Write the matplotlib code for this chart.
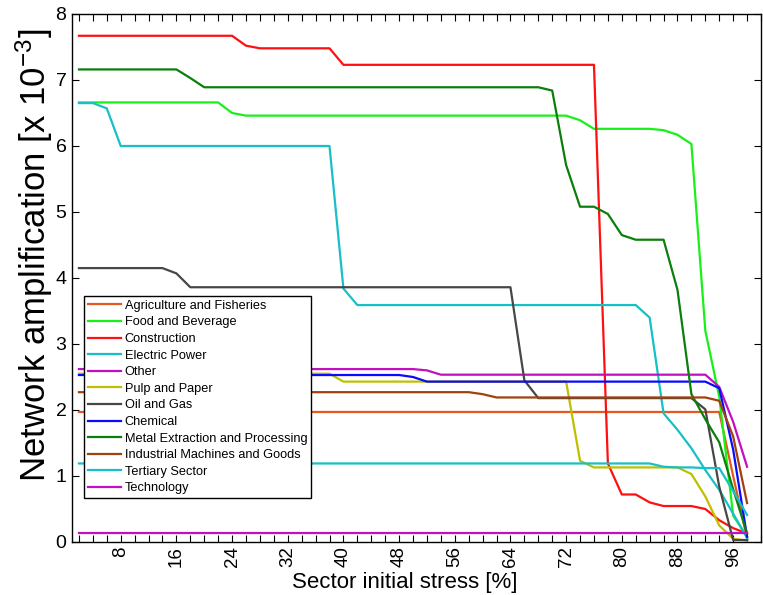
import matplotlib
matplotlib.use("Agg")
import matplotlib.pyplot as plt
from matplotlib.ticker import MultipleLocator, FixedLocator

plt.rcParams['font.family'] = ['Liberation Sans', 'DejaVu Sans']
plt.rcParams['mathtext.fontset'] = 'custom'
plt.rcParams['mathtext.rm'] = 'Liberation Sans'
plt.rcParams['mathtext.it'] = 'Liberation Sans:italic'

stress = [2, 4, 6, 8, 10, 12, 14, 16, 18, 20,
          22, 24, 26, 28, 30, 32, 34, 36, 38, 40,
          42, 44, 46, 48, 50, 52, 54, 56, 58, 60,
          62, 64, 66, 68, 70, 72, 74, 76, 78, 80,
          82, 84, 86, 88, 90, 92, 94, 96, 98]

agriculture = [1.97, 1.97, 1.97, 1.97, 1.97, 1.97, 1.97, 1.97, 1.97, 1.97,
               1.97, 1.97, 1.97, 1.97, 1.97, 1.97, 1.97, 1.97, 1.97, 1.97,
               1.97, 1.97, 1.97, 1.97, 1.97, 1.97, 1.97, 1.97, 1.97, 1.97,
               1.97, 1.97, 1.97, 1.97, 1.97, 1.97, 1.97, 1.97, 1.97, 1.97,
               1.97, 1.97, 1.97, 1.97, 1.97, 1.97, 1.97, 1.00, 0.05]

food = [6.66, 6.66, 6.66, 6.66, 6.66, 6.66, 6.66, 6.66, 6.66, 6.66,
        6.66, 6.50, 6.46, 6.46, 6.46, 6.46, 6.46, 6.46, 6.46, 6.46,
        6.46, 6.46, 6.46, 6.46, 6.46, 6.46, 6.46, 6.46, 6.46, 6.46,
        6.46, 6.46, 6.46, 6.46, 6.46, 6.46, 6.39, 6.26, 6.26, 6.26,
        6.26, 6.26, 6.24, 6.17, 6.03, 3.20, 2.20, 0.40, 0.08]

construction = [7.67, 7.67, 7.67, 7.67, 7.67, 7.67, 7.67, 7.67, 7.67, 7.67,
                7.67, 7.67, 7.52, 7.48, 7.48, 7.48, 7.48, 7.48, 7.48, 7.23,
                7.23, 7.23, 7.23, 7.23, 7.23, 7.23, 7.23, 7.23, 7.23, 7.23,
                7.23, 7.23, 7.23, 7.23, 7.23, 7.23, 7.23, 7.23, 1.19, 0.72,
                0.72, 0.60, 0.545, 0.545, 0.545, 0.50, 0.33, 0.21, 0.13]

electric = [6.65, 6.65, 6.57, 6.00, 6.00, 6.00, 6.00, 6.00, 6.00, 6.00,
            6.00, 6.00, 6.00, 6.00, 6.00, 6.00, 6.00, 6.00, 6.00, 3.84,
            3.59, 3.59, 3.59, 3.59, 3.59, 3.59, 3.59, 3.59, 3.59, 3.59,
            3.59, 3.59, 3.59, 3.59, 3.59, 3.59, 3.59, 3.59, 3.59, 3.59,
            3.59, 3.40, 1.95, 1.70, 1.42, 1.09, 0.79, 0.43, 0.06]

other = [2.62, 2.62, 2.62, 2.62, 2.62, 2.62, 2.62, 2.62, 2.62, 2.62,
         2.62, 2.62, 2.62, 2.62, 2.62, 2.62, 2.62, 2.62, 2.62, 2.62,
         2.62, 2.62, 2.62, 2.62, 2.62, 2.60, 2.535, 2.535, 2.535, 2.535,
         2.535, 2.535, 2.535, 2.535, 2.535, 2.535, 2.535, 2.535, 2.535, 2.535,
         2.535, 2.535, 2.535, 2.535, 2.535, 2.535, 2.35, 1.82, 1.14]

pulp = [2.55, 2.55, 2.55, 2.55, 2.55, 2.55, 2.55, 2.55, 2.55, 2.55,
        2.55, 2.55, 2.55, 2.55, 2.55, 2.55, 2.55, 2.55, 2.55, 2.43,
        2.43, 2.43, 2.43, 2.43, 2.43, 2.43, 2.43, 2.43, 2.43, 2.43,
        2.43, 2.43, 2.43, 2.43, 2.43, 2.43, 1.23, 1.13, 1.13, 1.13,
        1.13, 1.13, 1.13, 1.13, 1.03, 0.69, 0.25, 0.05, 0.02]

oil_gas = [4.15, 4.15, 4.15, 4.15, 4.15, 4.15, 4.15, 4.07, 3.86, 3.86,
           3.86, 3.86, 3.86, 3.86, 3.86, 3.86, 3.86, 3.86, 3.86, 3.86,
           3.86, 3.86, 3.86, 3.86, 3.86, 3.86, 3.86, 3.86, 3.86, 3.86,
           3.86, 3.86, 2.45, 2.18, 2.18, 2.18, 2.18, 2.18, 2.18, 2.18,
           2.18, 2.18, 2.18, 2.18, 2.18, 2.01, 0.84, 0.03, 0.03]

chemical = [2.53, 2.53, 2.53, 2.53, 2.53, 2.53, 2.53, 2.53, 2.53, 2.53,
            2.53, 2.53, 2.53, 2.53, 2.53, 2.53, 2.53, 2.53, 2.53, 2.53,
            2.53, 2.53, 2.53, 2.53, 2.50, 2.43, 2.43, 2.43, 2.43, 2.43,
            2.43, 2.43, 2.43, 2.43, 2.43, 2.43, 2.43, 2.43, 2.43, 2.43,
            2.43, 2.43, 2.43, 2.43, 2.43, 2.43, 2.33, 1.40, 0.08]

metal = [7.16, 7.16, 7.16, 7.16, 7.16, 7.16, 7.16, 7.16, 7.03, 6.89,
         6.89, 6.89, 6.89, 6.89, 6.89, 6.89, 6.89, 6.89, 6.89, 6.89,
         6.89, 6.89, 6.89, 6.89, 6.89, 6.89, 6.89, 6.89, 6.89, 6.89,
         6.89, 6.89, 6.89, 6.89, 6.84, 5.71, 5.08, 5.08, 4.97, 4.65,
         4.58, 4.58, 4.58, 3.82, 2.24, 1.86, 1.51, 0.80, 0.13]

industrial = [2.27, 2.27, 2.27, 2.27, 2.27, 2.27, 2.27, 2.27, 2.27, 2.27,
              2.27, 2.27, 2.27, 2.27, 2.27, 2.27, 2.27, 2.27, 2.27, 2.27,
              2.27, 2.27, 2.27, 2.27, 2.27, 2.27, 2.27, 2.27, 2.27, 2.24,
              2.19, 2.19, 2.19, 2.19, 2.19, 2.19, 2.19, 2.19, 2.19, 2.19,
              2.19, 2.19, 2.19, 2.19, 2.19, 2.19, 2.14, 1.60, 0.59]

tertiary = [1.19, 1.19, 1.19, 1.19, 1.19, 1.19, 1.19, 1.19, 1.19, 1.19,
            1.19, 1.19, 1.19, 1.19, 1.19, 1.19, 1.19, 1.19, 1.19, 1.19,
            1.19, 1.19, 1.19, 1.19, 1.19, 1.19, 1.19, 1.19, 1.19, 1.19,
            1.19, 1.19, 1.19, 1.19, 1.19, 1.19, 1.19, 1.19, 1.19, 1.19,
            1.19, 1.19, 1.14, 1.13, 1.13, 1.12, 1.12, 0.77, 0.41]

technology = [0.14, 0.14, 0.14, 0.14, 0.14, 0.14, 0.14, 0.14, 0.14, 0.14,
              0.14, 0.14, 0.14, 0.14, 0.14, 0.14, 0.14, 0.14, 0.14, 0.14,
              0.14, 0.14, 0.14, 0.14, 0.14, 0.14, 0.14, 0.14, 0.14, 0.14,
              0.14, 0.14, 0.14, 0.14, 0.14, 0.14, 0.14, 0.14, 0.14, 0.14,
              0.14, 0.14, 0.14, 0.14, 0.14, 0.14, 0.14, 0.14, 0.14]

labels = ["Agriculture and Fisheries", "Food and Beverage", "Construction",
          "Electric Power", "Other", "Pulp and Paper", "Oil and Gas",
          "Chemical", "Metal Extraction and Processing",
          "Industrial Machines and Goods", "Tertiary Sector", "Technology"]
series = [agriculture, food, construction, electric, other, pulp, oil_gas,
          chemical, metal, industrial, tertiary, technology]
colors = ["#E5581E", "#19F019", "#FF0F0F", "#17BFC6", "#C010C0", "#BFBF00",
          "#474747", "#0A0AFF", "#0B7F0B", "#A2400E", "#17BFC6", "#C010C0"]

x_ticks = [8, 16, 24, 32, 40, 48, 56, 64, 72, 80, 88, 96]
y_ticks = [0, 1, 2, 3, 4, 5, 6, 7, 8]

fig = plt.figure(figsize=(7.63, 5.95), dpi=100)
ax = fig.add_axes([72 / 763, 53 / 595, 689 / 763, 528 / 595])

for vals, lab, col in zip(series, labels, colors):
    ax.plot(stress, vals, color=col, lw=1.6, label=lab)

ax.set_xlim(1, 100)
ax.set_ylim(0, 8)
ax.xaxis.set_major_locator(FixedLocator(x_ticks))
ax.xaxis.set_minor_locator(MultipleLocator(2))
ax.yaxis.set_major_locator(FixedLocator(y_ticks))
ax.set_xticklabels([str(t) for t in x_ticks], rotation=90, fontsize=13.5)
ax.set_yticklabels([str(t) for t in y_ticks], fontsize=14)
ax.tick_params(which='both', direction='in', top=True, right=True,
               length=5, width=0.8)
ax.tick_params(axis='x', pad=3)
ax.tick_params(axis='y', pad=4)
for s in ax.spines.values():
    s.set_linewidth(1.0)

ax.set_xlabel("Sector initial stress [%]", fontsize=16)
ax.xaxis.set_label_coords(0.483, -0.056)
ax.set_ylabel("Network amplification [x 10$^{-3}$]", fontsize=25)
ax.yaxis.set_label_coords(-0.024, 0.5436)

leg = ax.legend(loc='upper left', bbox_to_anchor=(0.017, 0.466),
                borderaxespad=0, fontsize=9.2, labelspacing=0.36,
                handlelength=2.6, handletextpad=0.3, borderpad=0.3,
                fancybox=False, framealpha=1)
leg.get_frame().set_edgecolor('black')
leg.get_frame().set_linewidth(1.0)

fig.savefig("out.png", dpi=100)
